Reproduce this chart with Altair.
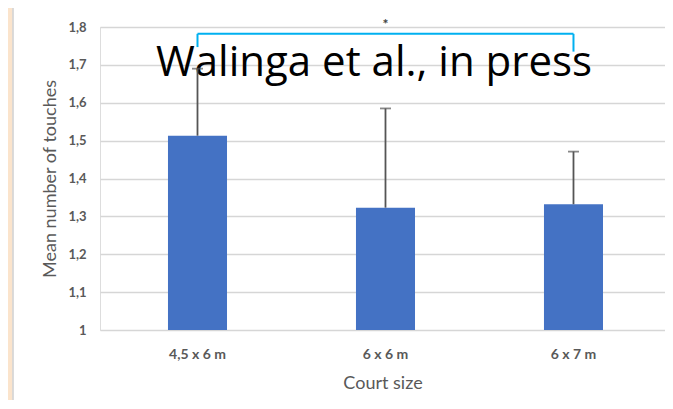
import altair as alt
import pandas as pd

# ---- data ----
categories = ["4,5 x 6 m", "6 x 6 m", "6 x 7 m"]
means = [1.513, 1.323, 1.332]
upper = [1.690, 1.585, 1.471]          # mean + SD (top of error bar)
y_ticks = [1, 1.1, 1.2, 1.3, 1.4, 1.5, 1.6, 1.7, 1.8]
y_min, y_max = 1, 1.8

bracket_from = "4,5 x 6 m"
bracket_to = "6 x 7 m"
bracket_y = 1.782
bracket_left_low = 1.747
bracket_right_low = 1.735
star_y = 1.812
star_x = "6 x 6 m"

overlay_text = "Walinga et al., in press"

df = pd.DataFrame({"court": categories, "mean": means, "upper": upper})
br_h = pd.DataFrame({"court": [bracket_from], "b": [bracket_to], "mean": [bracket_y]})
br_v = pd.DataFrame({"court": [bracket_from, bracket_to],
                     "mean": [bracket_y, bracket_y],
                     "y2": [bracket_left_low, bracket_right_low]})
star = pd.DataFrame({"court": [star_x], "mean": [star_y], "t": ["*"]})

W, H = 565, 303
FONT = "Lato"
GRAY = "#595959"

xscale = alt.Scale(domain=categories, paddingInner=0.686, paddingOuter=0.3457, align=0.523)
yscale = alt.Scale(domain=[y_min, y_max], nice=False, zero=False)

x_axis = alt.Axis(title="Court size", labelAngle=0, domain=False, ticks=False,
                  labelPadding=17, titlePadding=13, labelFontSize=14,
                  titleFontSize=18, labelColor=GRAY, titleColor=GRAY,
                  labelFont=FONT, titleFont=FONT, titleFontWeight="normal",
                  labelFontWeight="bold", grid=False)
y_axis = alt.Axis(title="Mean number of touches", values=y_ticks,
                  labelExpr="datum.value == 1 ? '1' : replace(format(datum.value, '.1f'), '.', ',')",
                  domain=False, ticks=False, labelPadding=14, titlePadding=8,
                  labelFontSize=13, titleFontSize=18, labelColor=GRAY, titleColor=GRAY,
                  labelFont=FONT, titleFont=FONT, titleFontWeight="normal",
                  labelFontWeight="bold", grid=True, gridColor="#d6d6d6",
                  gridWidth=1.4, labelOverlap=False)

def X():
    return alt.X("court:N", scale=xscale, sort=categories, axis=x_axis)

def Y(field="mean:Q"):
    return alt.Y(field, scale=yscale, axis=y_axis)

bars = alt.Chart(df).mark_bar(color="#4472C4").encode(x=X(), y=Y(), y2=alt.datum(y_min))

err = alt.Chart(df).mark_rule(color="#555555", strokeWidth=1.8).encode(
    x=X(), y=Y(), y2="upper:Q")
caps = alt.Chart(df).mark_tick(color="#555555", orient="horizontal", size=11, thickness=1.8).encode(
    x=X(), y=Y("upper:Q"))

bh = alt.Chart(br_h).mark_rule(color="#00B0F0", strokeWidth=2).encode(
    x=X(), x2="b:N", y=Y())
bv = alt.Chart(br_v).mark_rule(color="#00B0F0", strokeWidth=2).encode(
    x=X(), y=Y(), y2="y2:Q")
st = alt.Chart(star).mark_text(color="#404040", fontSize=14, font=FONT, fontWeight="bold",
                               baseline="middle", dy=3).encode(
    x=X(), y=Y(), text="t:N")

# decorative frame stripe on the left (slide background)
frame = alt.Chart(pd.DataFrame({"k": [0]})).mark_rect(color="#FBE4CC").encode(
    x=alt.value(-92), x2=alt.value(-87.5), y=alt.value(-19), y2=alt.value(374))
frame_line = alt.Chart(pd.DataFrame({"k": [0]})).mark_rule(color="#cfcfcf", strokeWidth=1.5).encode(
    x=alt.value(-87), y=alt.value(-19), y2=alt.value(374))

overlay = alt.Chart(pd.DataFrame({"t": [overlay_text]})).mark_text(
    font="Open Sans", fontSize=42, color="black", align="center", baseline="alphabetic").encode(
    x=alt.value(274), y=alt.value(49), text="t:N")

chart = alt.layer(bars, frame, frame_line, overlay, err, caps, bh, bv, st).properties(
    width=W, height=H,
    autosize=alt.AutoSizeParams(type="none"),
    padding={"left": 92, "top": 19, "right": 0, "bottom": 70},
).configure_view(stroke=None).configure(background="white")

chart.save("out.html", embed_options={"renderer": "svg", "actions": False})
